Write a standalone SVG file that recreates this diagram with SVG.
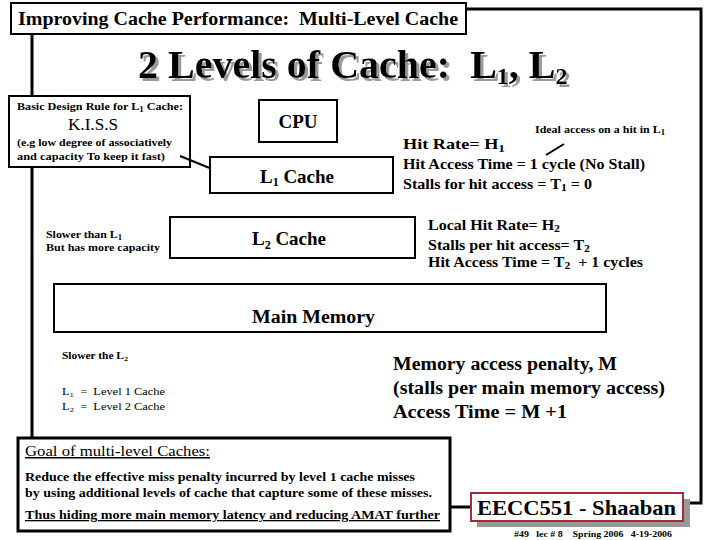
<svg xmlns="http://www.w3.org/2000/svg" width="720" height="540" viewBox="0 0 720 540" font-family="'Liberation Serif', 'DejaVu Serif', serif">
<style>
text{font-family:'Liberation Serif','DejaVu Serif',serif;fill:#000;font-weight:bold;white-space:pre}
.box{fill:#fff;stroke:#000;stroke-width:2}
.frame{fill:none;stroke:#000;stroke-width:3}
.ln{stroke:#000;stroke-width:2;fill:none}
.sm{font-size:11px}
.md{font-size:15px}
.lg{font-size:19px}
.u{text-decoration:underline}
</style>
<defs>
<filter id="shadow" x="-5%" y="-20%" width="110%" height="150%">
<feDropShadow dx="3" dy="3" stdDeviation="0.6" flood-color="#9a9a9a" flood-opacity="1"/>
</filter>
</defs>
<rect width="720" height="540" fill="#fff"/>
<g id="frame">
<polyline class="frame" points="466,9 701,9 701,503 683,503"/>
<line class="frame" x1="32" y1="34" x2="32" y2="97"/>
<line class="frame" x1="32" y1="167" x2="32" y2="438"/>
<line class="frame" x1="450" y1="507" x2="472" y2="507"/>
</g>
<g id="title">
<rect class="box" x="11" y="3" width="455" height="31"/>
<text x="18" y="25" style="font-size:18px" textLength="440" lengthAdjust="spacingAndGlyphs">Improving Cache Performance:  Multi-Level Cache</text>
</g>
<g id="heading" filter="url(#shadow)">
<text x="138" y="78" style="font-size:40px">2 Levels of Cache:  L<tspan style="font-size:24px" dy="6">1</tspan><tspan dy="-6">, L</tspan><tspan style="font-size:24px" dy="6">2</tspan></text>
</g>
<g id="design-rule">
<rect class="box" x="9" y="96" width="181" height="71"/>
<text class="sm" x="17" y="110" textLength="166" lengthAdjust="spacingAndGlyphs">Basic Design Rule for L<tspan style="font-size:8px" dy="2">1</tspan><tspan dy="-2"> Cache:</tspan></text>
<text x="68" y="130" style="font-size:16px;font-weight:normal" textLength="50" lengthAdjust="spacingAndGlyphs">K.I.S.S</text>
<text class="sm" x="17" y="146" textLength="155" lengthAdjust="spacingAndGlyphs">(e.g low degree of associatively</text>
<text class="sm" x="17" y="160" textLength="148" lengthAdjust="spacingAndGlyphs">and capacity To keep it fast)</text>
</g>
<g id="connectors">
<line class="ln" x1="180" y1="156" x2="222" y2="173"/>
<line class="ln" x1="546" y1="155" x2="564" y2="144"/>
</g>
<g id="cpu">
<rect class="box" x="259" y="100" width="78" height="42"/>
<text class="lg" x="298" y="128" text-anchor="middle">CPU</text>
</g>
<g id="l1-cache">
<rect class="box" x="210" y="157" width="183" height="36"/>
<text class="lg" x="297" y="183" text-anchor="middle">L<tspan style="font-size:12px" dy="3">1</tspan><tspan dy="-3"> Cache</tspan></text>
</g>
<g id="l2-cache">
<rect class="box" x="170" y="217" width="245" height="41"/>
<text class="lg" x="289" y="245" text-anchor="middle">L<tspan style="font-size:12px" dy="4">2</tspan><tspan dy="-4"> Cache</tspan></text>
</g>
<g id="main-memory">
<rect class="box" x="54" y="284" width="552" height="48"/>
<text x="252" y="323" style="font-size:18px" textLength="123" lengthAdjust="spacingAndGlyphs">Main Memory</text>
</g>
<g id="l1-notes">
<text class="sm" x="535" y="133" textLength="130" lengthAdjust="spacingAndGlyphs">Ideal access on a hit in L<tspan style="font-size:8px" dy="2">1</tspan></text>
<text class="md" x="403" y="149" textLength="102" lengthAdjust="spacingAndGlyphs">Hit Rate= H<tspan style="font-size:11px" dy="3">1</tspan></text>
<text class="md" x="403" y="169" textLength="242" lengthAdjust="spacingAndGlyphs">Hit Access Time = 1 cycle (No Stall)</text>
<text class="md" x="403" y="189" textLength="189" lengthAdjust="spacingAndGlyphs">Stalls for hit access = T<tspan style="font-size:11px" dy="2">1</tspan><tspan dy="-2"> = 0</tspan></text>
</g>
<g id="l2-notes">
<text class="sm" x="46" y="238" textLength="76" lengthAdjust="spacingAndGlyphs">Slower than L<tspan style="font-size:8px" dy="2">1</tspan></text>
<text class="sm" x="46" y="251" textLength="114" lengthAdjust="spacingAndGlyphs">But has more capacity</text>
<text class="md" x="428" y="230" textLength="132" lengthAdjust="spacingAndGlyphs">Local Hit Rate= H<tspan style="font-size:11px" dy="2">2</tspan></text>
<text class="md" x="428" y="250" textLength="162" lengthAdjust="spacingAndGlyphs">Stalls per hit access= T<tspan style="font-size:11px" dy="2">2</tspan></text>
<text class="md" x="428" y="267" textLength="215" lengthAdjust="spacingAndGlyphs">Hit Access Time = T<tspan style="font-size:11px" dy="2">2</tspan><tspan dy="-2">  + 1 cycles</tspan></text>
</g>
<g id="memory-notes">
<text x="62" y="359" style="font-size:10px" textLength="66" lengthAdjust="spacingAndGlyphs">Slower the L<tspan style="font-size:7px" dy="2">2</tspan></text>
<text x="62" y="395" style="font-size:10px;font-weight:normal" textLength="103" lengthAdjust="spacingAndGlyphs">L<tspan style="font-size:7px" dy="2">1</tspan><tspan dy="-2">  =  Level 1 Cache</tspan></text>
<text x="62" y="410" style="font-size:10px;font-weight:normal" textLength="103" lengthAdjust="spacingAndGlyphs">L<tspan style="font-size:7px" dy="2">2</tspan><tspan dy="-2">  =  Level 2 Cache</tspan></text>
<text x="393" y="370" style="font-size:18px" textLength="224" lengthAdjust="spacingAndGlyphs">Memory access penalty, M</text>
<text x="393" y="394" style="font-size:18px" textLength="272" lengthAdjust="spacingAndGlyphs">(stalls per main memory access)</text>
<text x="393" y="418" style="font-size:18px" textLength="174" lengthAdjust="spacingAndGlyphs">Access Time = M +1</text>
</g>
<g id="goal">
<rect x="18" y="438" width="432" height="93" fill="#fff" stroke="#000" stroke-width="3"/>
<text class="u" x="25" y="456" style="font-size:15px;font-weight:normal" textLength="185" lengthAdjust="spacingAndGlyphs">Goal of multi-level Caches:</text>
<text x="25" y="481" style="font-size:13px" textLength="390" lengthAdjust="spacingAndGlyphs">Reduce the effective miss penalty incurred by level 1 cache misses</text>
<text x="25" y="497" style="font-size:13px" textLength="407" lengthAdjust="spacingAndGlyphs">by using additional levels of cache that capture some of these misses.</text>
<text class="u" x="25" y="519" style="font-size:13px" textLength="415" lengthAdjust="spacingAndGlyphs">Thus hiding more main memory latency and reducing AMAT further</text>
</g>
<g id="footer">
<rect x="477" y="499" width="213" height="28" fill="#999"/>
<rect x="471" y="493" width="212" height="28" fill="#fff" stroke="#a8283e" stroke-width="2"/>
<text x="477" y="515" style="font-size:22px" textLength="199" lengthAdjust="spacingAndGlyphs">EECC551 - Shaaban</text>
<text x="514" y="537" style="font-size:9px" textLength="158" lengthAdjust="spacingAndGlyphs">#49   lec # 8    Spring 2006   4-19-2006</text>
</g>
</svg>
